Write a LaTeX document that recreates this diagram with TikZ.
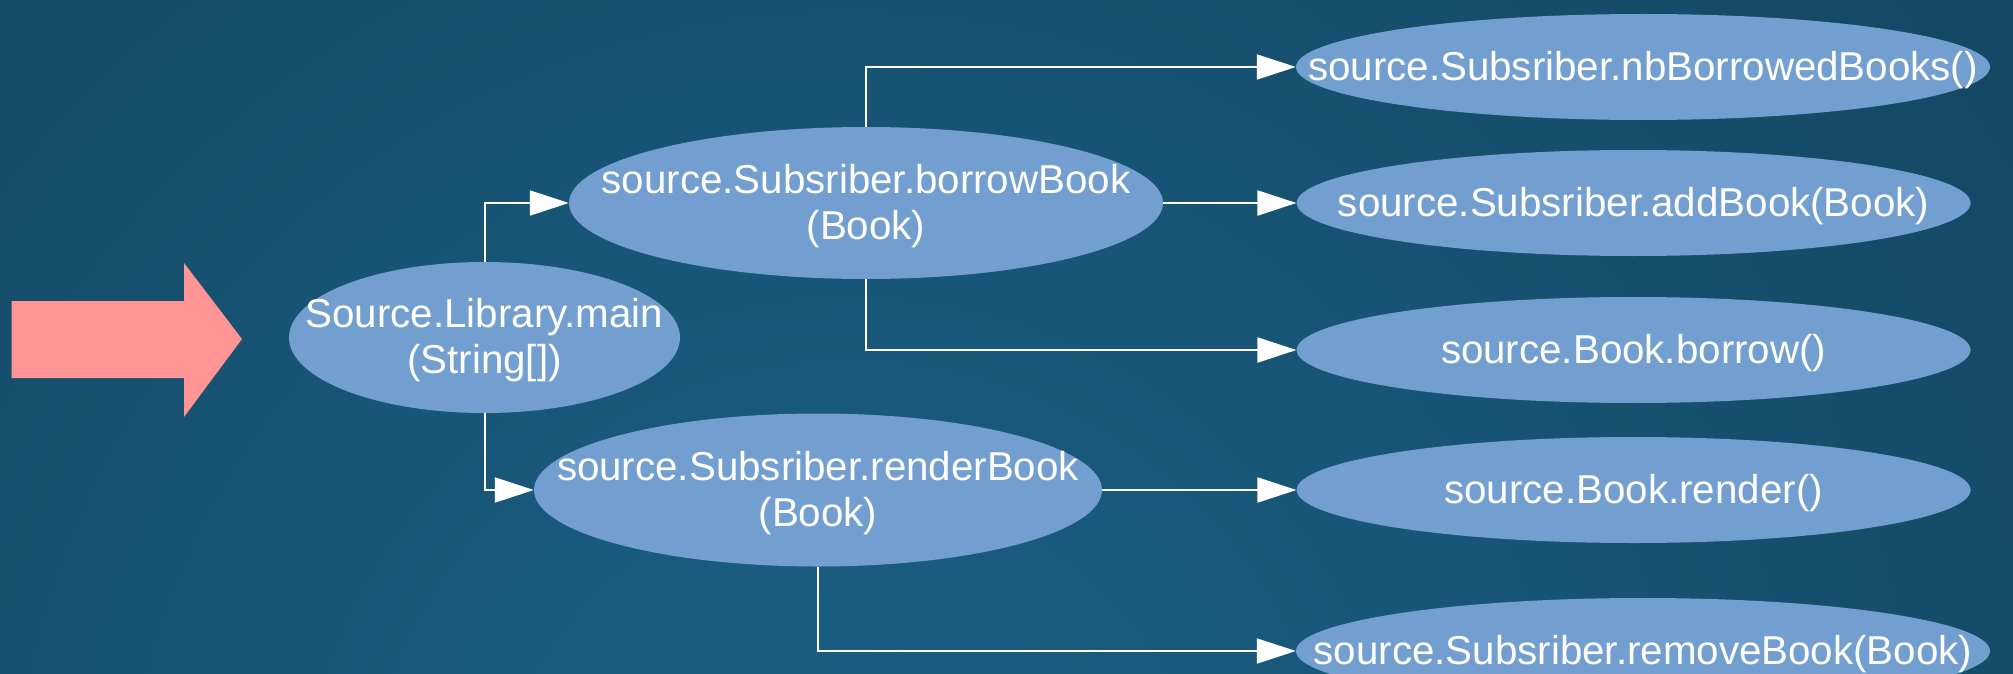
\documentclass[tikz,border=0pt]{standalone}
\usepackage{fontspec}
\setmainfont{Liberation Sans}
\usetikzlibrary{shapes.geometric,arrows.meta}

\definecolor{bglight}{HTML}{1B6085}
\definecolor{bgmid}{HTML}{144763}
\definecolor{bgdark}{HTML}{0E2C3F}
\definecolor{ovalfill}{HTML}{729FCF}
\definecolor{pointer}{HTML}{FF9494}
\pgfdeclareradialshading{bgglow}{\pgfpoint{0bp}{0bp}}{color(0bp)=(bglight); color(25bp)=(bgmid); color(50bp)=(bgdark)}

\tikzset{
  oval/.style={ellipse, fill=ovalfill, draw=none, inner sep=0pt},
  lbl/.style={text=white, font=\fontsize{40.3}{46}\selectfont, align=center, inner sep=0pt, yshift=-3pt},
  call/.style={draw=white, line width=2pt, -{Triangle[length=39pt,width=25pt,fill=white]}},
}

\begin{document}
\begin{tikzpicture}[x=1pt, y=-1pt]
  % canvas with a soft radial glow
  \useasboundingbox (0,0) rectangle (2013,674);
  \begin{scope}
    \clip (0,0) rectangle (2013,674);
    \shade[shading=bgglow] (850,850) circle (1450);
  \end{scope}

  % entry pointer
  \fill[pointer] (11.7,301) -- (184,301) -- (184,263) -- (242,339)
    -- (184,417) -- (184,378) -- (11.7,378) -- cycle;

  % call tree
  \node[oval, minimum width=391pt, minimum height=151pt,
        label={[lbl]center:{Source.Library.main\\(String[])}}] (main) at (484.5,337.5) {};
  \node[oval, minimum width=594pt, minimum height=152pt,
        label={[lbl]center:{source.Subsriber.borrowBook\\(Book)}}] (borrowbook) at (866,203) {};
  \node[oval, minimum width=568pt, minimum height=153pt,
        label={[lbl]center:{source.Subsriber.renderBook\\(Book)}}] (renderbook) at (818,490) {};

  \node[oval, minimum width=694pt, minimum height=106pt,
        label={[lbl]center:{source.Subsriber.nbBorrowedBooks()}}] (nbbooks) at (1643,67) {};
  \node[oval, minimum width=674pt, minimum height=106pt,
        label={[lbl]center:{source.Subsriber.addBook(Book)}}] (addbook) at (1633.6,203) {};
  \node[oval, minimum width=674pt, minimum height=106pt,
        label={[lbl]center:{source.Book.borrow()}}] (borrow) at (1633.6,350) {};
  \node[oval, minimum width=674pt, minimum height=106pt,
        label={[lbl]center:{source.Book.render()}}] (render) at (1633.6,490) {};
  \node[oval, minimum width=694pt, minimum height=106pt,
        label={[lbl]center:{source.Subsriber.removeBook(Book)}}] (removebook) at (1643,651) {};

  % connectors
  \draw[call] (main.north) |- (borrowbook.west);
  \draw[call] (main.south) |- (renderbook.west);
  \draw[call] (borrowbook.north) |- (nbbooks.west);
  \draw[call] (borrowbook.east) -- (addbook.west);
  \draw[call] (borrowbook.south) |- (borrow.west);
  \draw[call] (renderbook.east) -- (render.west);
  \draw[call] (renderbook.south) |- (removebook.west);
\end{tikzpicture}
\end{document}
